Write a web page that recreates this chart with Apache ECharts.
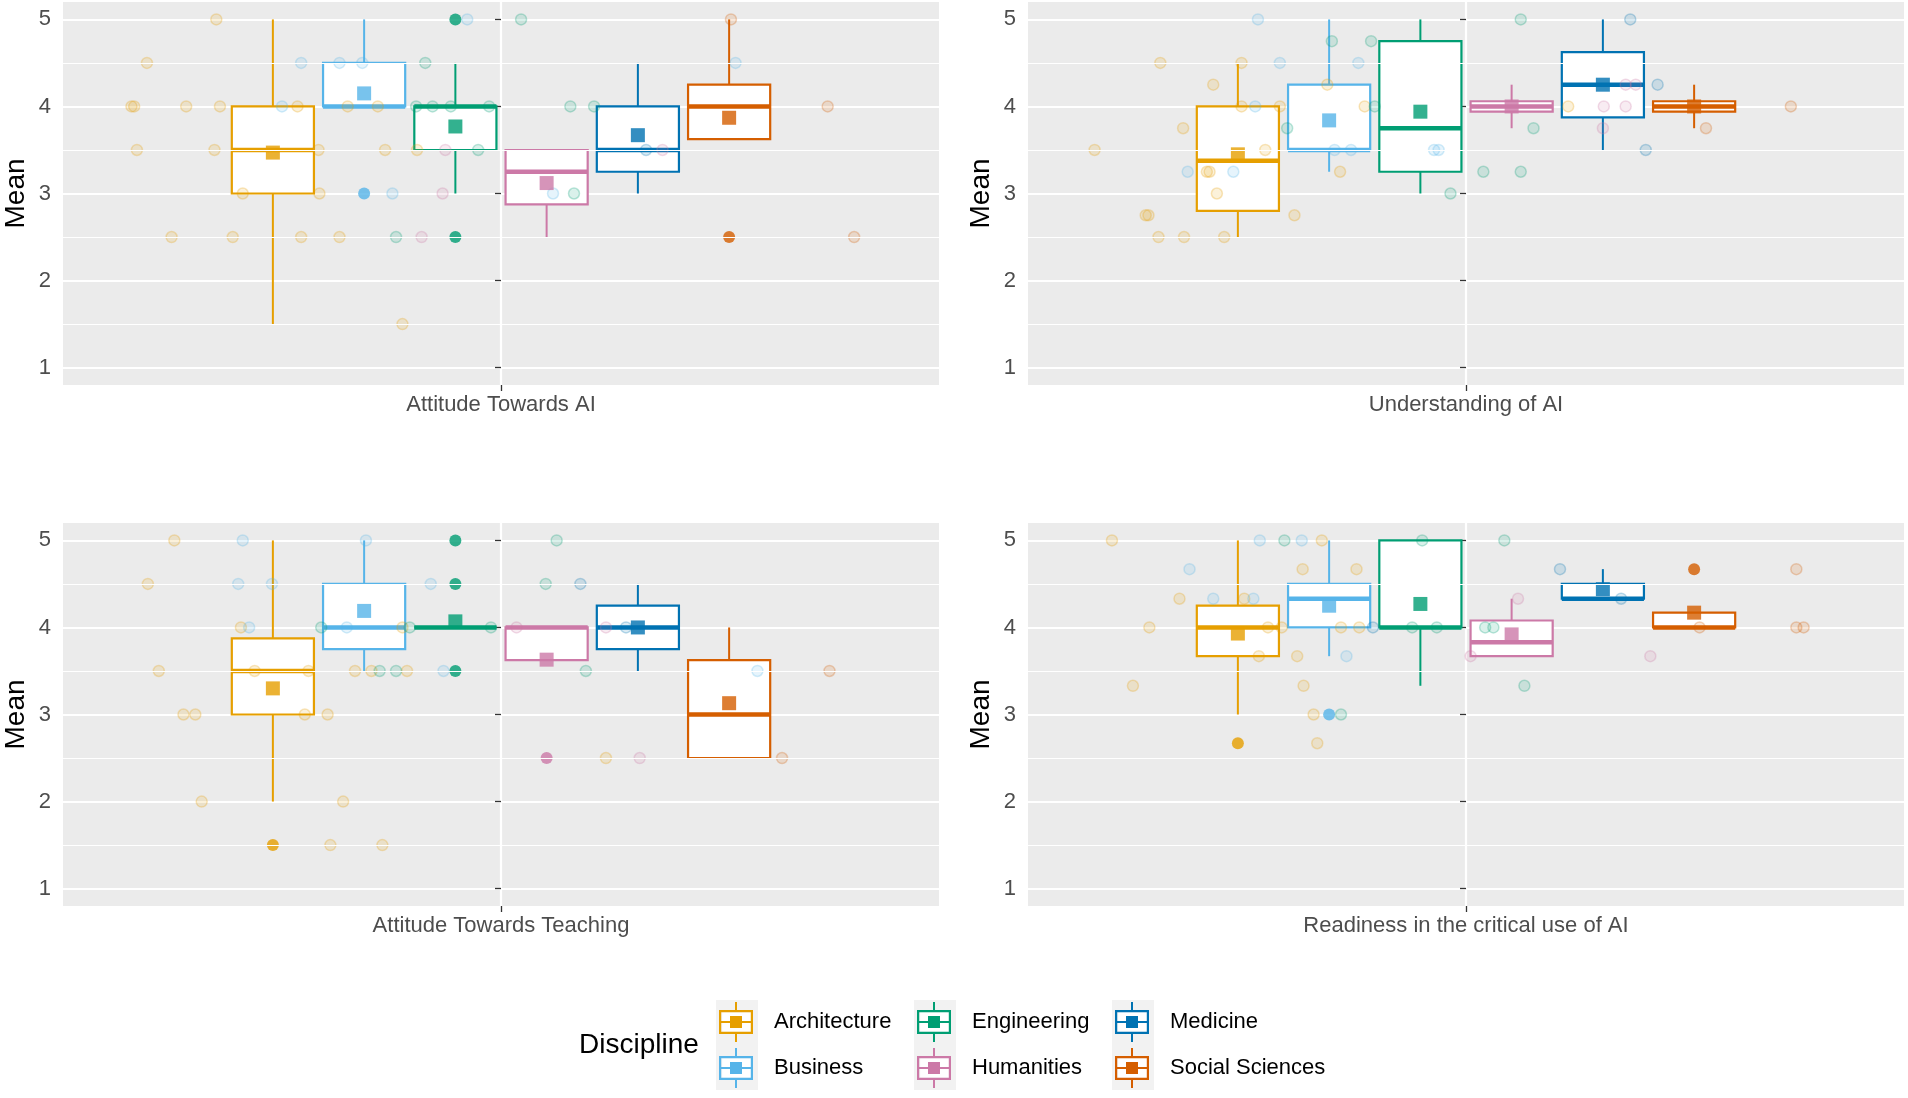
<!DOCTYPE html>
<html>
<head>
<meta charset="utf-8">
<title>Mean scores by discipline</title>
<script src="https://cdn.jsdelivr.net/npm/echarts@6/dist/echarts.min.js"></script>
<style>
html, body { margin: 0; padding: 0; background: #fff; }
#chart { width: 1908px; height: 1098px; }
</style>
</head>
<body>
<div id="chart"></div>
<script>
var disciplines = ['Architecture', 'Business', 'Engineering', 'Humanities', 'Medicine', 'Social Sciences'];
var colors = ['#E69F00', '#56B4E9', '#009E73', '#CC79A7', '#0072B2', '#D55E00'];
var panelNames = ['Attitude Towards AI', 'Understanding of AI', 'Attitude Towards Teaching', 'Readiness in the critical use of AI'];
var yBreaks = [1, 2, 3, 4, 5];
var yMinorBreaks = [1.5, 2.5, 3.5, 4.5];
var legendTitle = 'Discipline';

// [lower whisker, q1, median, q3, upper whisker] per discipline
var boxAttitudeAI = [[1.5, 3, 3.5, 4, 5], [4, 4, 4, 4.5, 5], [3, 3.5, 4, 4, 4.5],
  [2.5, 2.875, 3.25, 3.5, 3.5], [3, 3.25, 3.5, 4, 4.5], [3.625, 3.625, 4, 4.25, 5]];
var meanAttitudeAI = [3.47, 4.15, 3.77, 3.12, 3.67, 3.87];
var outAttitudeAI = [[], [3], [5, 2.5], [], [], [2.5]];
// jittered raw points: [discipline, jitter x, value]
var pointsAttitudeAI = [
  [0, -3.12, 5], [0, -3.88, 4.5], [0, -4.05, 4], [0, -4.02, 4], [0, -3.45, 4], [0, -3.08, 4], [0, -2.23, 4],
  [0, -1.68, 4], [0, -1.35, 4], [0, -3.99, 3.5], [0, -3.14, 3.5], [0, -2.0, 3.5], [0, -1.27, 3.5], [0, -0.92, 3.5],
  [0, -2.83, 3], [0, -1.99, 3], [0, -3.61, 2.5], [0, -2.94, 2.5], [0, -2.19, 2.5], [0, -1.77, 2.5], [0, -1.08, 1.5],
  [1, -0.37, 5], [1, -2.19, 4.5], [1, -1.77, 4.5], [1, -1.52, 4.5], [1, -2.4, 4], [1, -1.19, 3], [1, 0.57, 3], [1, 2.57, 4.5],
  [2, 0.22, 5], [2, -0.83, 4.5], [2, -0.93, 4], [2, -0.75, 4], [2, -0.55, 4], [2, -0.13, 4], [2, 0.76, 4], [2, 1.02, 4],
  [2, -0.25, 3.5], [2, -1.15, 2.5], [2, 0.8, 3],
  [3, -0.61, 3.5], [3, -0.64, 3], [3, -0.87, 2.5], [3, 1.77, 3.5],
  [4, 1.59, 3.5],
  [5, 2.52, 5], [5, 3.58, 4], [5, 3.87, 2.5]
];

var boxUnderstandingAI = [[2.5, 2.8, 3.375, 4, 4.5], [3.25, 3.5, 3.5, 4.25, 5], [3, 3.25, 3.75, 4.75, 5],
  [3.75, 3.94, 4, 4.06, 4.25], [3.5, 3.875, 4.25, 4.625, 5], [3.75, 3.94, 4, 4.06, 4.25]];
var meanUnderstandingAI = [3.45, 3.84, 3.94, 4.0, 4.25, 4.0];
var outUnderstandingAI = [[], [], [], [], [], []];
var pointsUnderstandingAI = [
  [0, -4.07, 3.5], [0, -3.35, 4.5], [0, -2.46, 4.5], [0, -2.77, 4.25], [0, -3.1, 3.75], [0, -2.84, 3.25], [0, -2.81, 3.25],
  [0, -2.73, 3], [0, -3.51, 2.75], [0, -3.48, 2.75], [0, -3.37, 2.5], [0, -3.09, 2.5], [0, -2.65, 2.5], [0, -2.46, 4],
  [0, -2.04, 4], [0, -2.2, 3.5], [0, -1.88, 2.75], [0, -1.52, 4.25], [0, -1.38, 3.25], [0, -1.11, 4], [0, 1.12, 4],
  [1, -2.28, 5], [1, -2.04, 4.5], [1, -1.18, 4.5], [1, -2.31, 4], [1, -3.05, 3.25], [1, -2.55, 3.25], [1, -1.44, 3.5],
  [1, -1.26, 3.5], [1, -0.35, 3.5], [1, -0.3, 3.5],
  [2, -1.47, 4.75], [2, -1.04, 4.75], [2, -1.96, 3.75], [2, -1.0, 4], [2, 0.6, 5], [2, 0.74, 3.75], [2, 0.19, 3.25],
  [2, 0.6, 3.25], [2, -0.17, 3],
  [3, 1.51, 4], [3, 1.75, 4], [3, 1.5, 3.75], [3, 1.75, 4.25], [3, 1.86, 4.25],
  [4, 1.8, 5], [4, 2.1, 4.25], [4, 1.97, 3.5],
  [5, 2.63, 3.75], [5, 3.56, 4]
];

var boxAttitudeTeaching = [[2, 3, 3.5, 3.875, 5], [3.5, 3.75, 4, 4.5, 5], [4, 4, 4, 4, 4],
  [3.625, 3.625, 4, 4, 4], [3.5, 3.75, 4, 4.25, 4.5], [2.5, 2.5, 3, 3.625, 4]];
var meanAttitudeTeaching = [3.3, 4.19, 4.07, 3.63, 4.0, 3.13];
var outAttitudeTeaching = [[1.5], [], [5, 4.5, 3.5], [2.5], [], []];
var pointsAttitudeTeaching = [
  [0, -3.58, 5], [0, -3.87, 4.5], [0, -2.85, 4], [0, -3.75, 3.5], [0, -2.7, 3.5], [0, -2.11, 3.5], [0, -3.48, 3],
  [0, -3.35, 3], [0, -2.15, 3], [0, -1.9, 3], [0, -3.28, 2], [0, -1.73, 2], [0, -1.87, 1.5], [0, -1.3, 1.5],
  [0, -1.6, 3.5], [0, -1.42, 3.5], [0, -1.08, 4], [0, -1.03, 3.5], [0, 1.15, 2.5],
  [1, -2.83, 5], [1, -1.48, 5], [1, -2.88, 4.5], [1, -2.51, 4.5], [1, -2.76, 4], [1, -1.69, 4], [1, -0.77, 4.5],
  [1, -0.63, 3.5], [1, 2.81, 3.5],
  [2, 0.61, 5], [2, 0.49, 4.5], [2, -1.97, 4], [2, -1.33, 3.5], [2, -1.15, 3.5], [2, 0.93, 3.5], [2, -0.11, 4], [2, -1.0, 4],
  [3, 0.17, 4], [3, 1.15, 4], [3, 1.52, 2.5],
  [4, 0.87, 4.5], [4, 1.37, 4],
  [5, 3.08, 2.5], [5, 3.6, 3.5]
];

var boxReadiness = [[3, 3.67, 4, 4.25, 5], [3.67, 4, 4.33, 4.5, 5], [3.33, 4, 4, 5, 5],
  [3.67, 3.67, 3.83, 4.08, 4.33], [4.33, 4.33, 4.33, 4.5, 4.67], [4, 4, 4, 4.17, 4.17]];
var meanReadiness = [3.93, 4.25, 4.27, 3.92, 4.44, 4.17];
var outReadiness = [[2.67], [3], [], [], [], [4.67]];
var pointsReadiness = [
  [0, -3.88, 5], [0, -1.58, 5], [0, -1.79, 4.67], [0, -1.2, 4.67], [0, -3.14, 4.33], [0, -2.43, 4.33], [0, -3.47, 4],
  [0, -2.17, 4], [0, -2.02, 4], [0, -1.37, 4], [0, -1.17, 4], [0, -2.27, 3.67], [0, -1.85, 3.67], [0, -3.65, 3.33],
  [0, -1.78, 3.33], [0, -1.67, 3], [0, -1.63, 2.67],
  [1, -2.26, 5], [1, -1.8, 5], [1, -3.03, 4.67], [1, -2.77, 4.33], [1, -2.33, 4.33], [1, -1.31, 3.67],
  [2, -1.99, 5], [2, -0.48, 5], [2, 0.42, 5], [2, -0.59, 4], [2, -0.32, 4], [2, 0.21, 4], [2, 0.3, 4], [2, 0.64, 3.33], [2, -1.37, 3],
  [3, 0.57, 4.33], [3, 0.05, 3.67], [3, 2.02, 3.67],
  [4, 1.03, 4.67], [4, 1.7, 4.33], [4, -1.02, 4],
  [5, 2.56, 4], [5, 3.62, 4.67], [5, 3.62, 4], [5, 3.7, 4]
];

var panelData = [
  { name: panelNames[0], box: boxAttitudeAI, mean: meanAttitudeAI, out: outAttitudeAI, points: pointsAttitudeAI },
  { name: panelNames[1], box: boxUnderstandingAI, mean: meanUnderstandingAI, out: outUnderstandingAI, points: pointsUnderstandingAI },
  { name: panelNames[2], box: boxAttitudeTeaching, mean: meanAttitudeTeaching, out: outAttitudeTeaching, points: pointsAttitudeTeaching },
  { name: panelNames[3], box: boxReadiness, mean: meanReadiness, out: outReadiness, points: pointsReadiness }
];

var FONT = 'Liberation Sans, Arial, sans-serif';
var gridLefts = [63, 1028];
var gridTops = [2, 523];

function rgba(hex, a) {
    var n = parseInt(hex.slice(1), 16);
    return 'rgba(' + (n >> 16) + ',' + ((n >> 8) & 255) + ',' + (n & 255) + ',' + a + ')';
}

function boxRenderer(color) {
    return function (params, api) {
        var x = api.value(0);
        var w = api.size([0.9, 0])[0];
        var lo = api.coord([x, api.value(1)]);
        var q1 = api.coord([x, api.value(2)]);
        var md = api.coord([x, api.value(3)]);
        var q3 = api.coord([x, api.value(4)]);
        var hi = api.coord([x, api.value(5)]);
        var line = { stroke: color, lineWidth: 2 };
        return {
            type: 'group',
            children: [
                { type: 'line', shape: { x1: lo[0], y1: lo[1], x2: q1[0], y2: q1[1] }, style: line },
                { type: 'line', shape: { x1: q3[0], y1: q3[1], x2: hi[0], y2: hi[1] }, style: line },
                { type: 'rect', shape: { x: q3[0] - w / 2, y: q3[1], width: w, height: q1[1] - q3[1] },
                  style: { fill: '#fff', stroke: color, lineWidth: 2.2 } },
                { type: 'line', shape: { x1: md[0] - w / 2, y1: md[1], x2: md[0] + w / 2, y2: md[1] },
                  style: { stroke: color, lineWidth: 4.5 } }
            ]
        };
    };
}

var grids = [], xAxes = [], yAxes = [], series = [];
panelData.forEach(function (p, i) {
    var col = i % 2, row = Math.floor(i / 2);
    grids.push({ left: gridLefts[col], top: gridTops[row], width: 876, height: 383,
        show: true, backgroundColor: '#EBEBEB', borderWidth: 0 });
    xAxes.push({
        gridIndex: i, type: 'value', min: -4.8, max: 4.8, interval: 4.8,
        axisLine: { show: false },
        axisTick: { show: true, customValues: [0], length: 6, lineStyle: { color: '#333', width: 1.3 } },
        axisLabel: { customValues: [0], formatter: function () { return p.name; },
            fontSize: 22, color: '#4D4D4D', margin: 9, fontFamily: FONT },
        splitLine: { show: true, lineStyle: { color: '#fff', width: 2.2 } }
    });
    yAxes.push({
        gridIndex: i, type: 'value', min: 0.8, max: 5.2,
        name: 'Mean', nameLocation: 'middle', nameGap: 33,
        nameTextStyle: { fontSize: 28, color: '#000', fontFamily: FONT },
        axisLine: { show: false },
        axisTick: { show: true, customValues: yBreaks, length: 6, lineStyle: { color: '#333', width: 1.3 } },
        axisLabel: { customValues: yBreaks, fontSize: 22, color: '#4D4D4D', margin: 12, fontFamily: FONT },
        splitLine: { show: true, lineStyle: { color: '#fff', width: 2.2 } }
    });
    // minor grid lines
    series.push({
        type: 'scatter', xAxisIndex: i, yAxisIndex: i, data: [], silent: true, z: 1,
        markLine: { silent: true, symbol: 'none', label: { show: false }, animation: false,
            lineStyle: { color: '#fff', width: 1.1, type: 'solid' },
            data: yMinorBreaks.map(function (v) { return { yAxis: v }; }) }
    });
    disciplines.forEach(function (d, k) {
        var x = k - (disciplines.length - 1) / 2;
        var c = colors[k];
        series.push({
            type: 'custom', name: d, xAxisIndex: i, yAxisIndex: i, z: 2,
            itemStyle: { color: c },
            renderItem: boxRenderer(c),
            encode: { x: 0, y: [1, 2, 3, 4, 5] },
            data: [[x].concat(p.box[k])]
        });
        series.push({
            type: 'scatter', name: d, xAxisIndex: i, yAxisIndex: i, z: 3, symbolSize: 11,
            itemStyle: { color: rgba(c, 0.18), borderColor: rgba(c, 0.32), borderWidth: 1.5 },
            data: p.points.filter(function (pt) { return pt[0] === k; })
                .map(function (pt) { return [pt[1], pt[2]]; })
        });
        series.push({
            type: 'scatter', name: d, xAxisIndex: i, yAxisIndex: i, z: 3, symbolSize: 12,
            itemStyle: { color: c },
            data: p.out[k].map(function (v) { return [x, v]; })
        });
        series.push({
            type: 'scatter', name: d, xAxisIndex: i, yAxisIndex: i, z: 4, symbol: 'rect', symbolSize: 14,
            itemStyle: { color: c },
            data: [[x, p.mean[k]]]
        });
    });
});

// legend key glyph (36 x 40): whiskers, hollow box, median bar, mean square
var keyIcon = 'path://M17 0H19V8H17Z M17 32H19V40H17Z M1 8H35V32H1Z M3.2 10.2V29.8H32.8V10.2Z M3 19H33V21H3Z M12 14H24V26H12Z';
var keyLefts = [719, 917, 1115];
var legendTop = 1002;
var legends = [], graphics = [];
keyLefts.forEach(function (left, c) {
    // legend box is laid out from its content, which starts at the glyph
    legends.push({
        orient: 'vertical', left: left, top: legendTop, padding: 0,
        itemWidth: 66, itemHeight: 40, itemGap: 6, selectedMode: false,
        itemStyle: { borderWidth: 0 },
        textStyle: { fontSize: 22, color: '#000', fontFamily: FONT },
        data: [disciplines[c * 2], disciplines[c * 2 + 1]].map(function (n) { return { name: n, icon: keyIcon }; })
    });
    graphics.push({ type: 'rect', z: 0, shape: { x: left - 3, y: legendTop - 2, width: 42, height: 90 },
        style: { fill: '#F2F2F2' } });
    [0, 1].forEach(function (r) {
        graphics.push({ type: 'rect', z: 1, shape: { x: left + 3.2, y: legendTop + r * 46 + 10.2, width: 29.6, height: 19.6 },
            style: { fill: '#fff' } });
    });
});
graphics.push({ type: 'text', x: 579, y: 1045, style: { text: legendTitle, fontSize: 28, fill: '#000',
    verticalAlign: 'middle', fontFamily: FONT } });

var myChart = echarts.init(document.getElementById('chart'));
myChart.setOption({
    animation: false,
    textStyle: { fontFamily: FONT },
    grid: grids,
    xAxis: xAxes,
    yAxis: yAxes,
    legend: legends,
    graphic: graphics,
    series: series
});
</script>
</body>
</html>
